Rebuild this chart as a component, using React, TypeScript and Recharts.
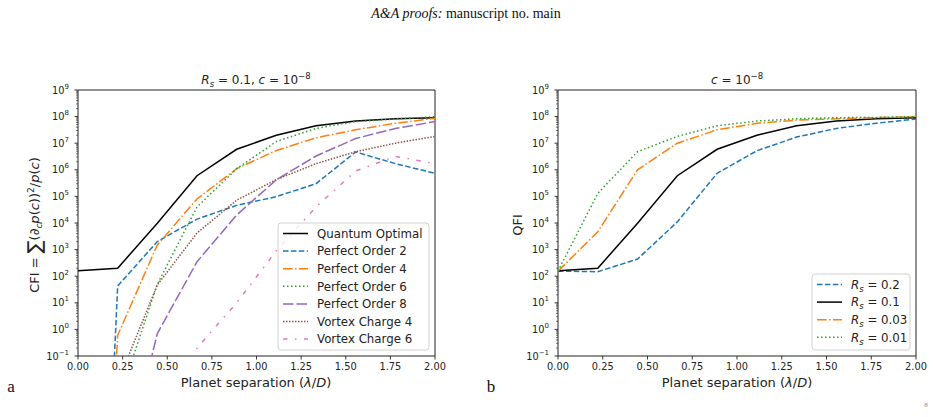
import React from 'react';
import { LineChart, Line, XAxis, YAxis, ReferenceArea } from 'recharts';

// planet separation grid in lambda/D
const separation = [0, 0.2222, 0.4444, 0.6667, 0.8889, 1.1111, 1.3333, 1.5556, 1.7778, 2.0];

// classical Fisher information, R_s = 0.1
const quantumOptimal = [160, 200, 9.8e3, 6e5, 5.9e6, 2e7, 4.5e7, 6.8e7, 8.3e7, 9e7];
const perfectOrder2 = [1e-31, 43, 2e3, 1.4e4, 4.6e4, 9.8e4, 3e5, 4.7e6, 1.7e6, 7.4e5];
const perfectOrder4 = [1e-29, 0.6, 1.5e3, 8e4, 1.1e6, 5.3e6, 1.6e7, 3.2e7, 5.6e7, 8.7e7];
const perfectOrder6 = [1e-30, 1.7e-3, 50, 4e4, 1.1e6, 1.15e7, 3.6e7, 6.5e7, 8.1e7, 1e8];
const perfectOrder8 = [1e-30, 6e-7, 0.7, 350, 2e4, 4.2e5, 3.3e6, 1.5e7, 3.6e7, 6.5e7];
const vortexCharge4 = [1e-30, 1e-2, 47, 4.2e3, 7.2e4, 4.3e5, 1.7e6, 4.8e6, 1e7, 1.8e7];
const vortexCharge6 = [1e-30, 1e-25, 1e-15, 0.2, 10, 900, 4e4, 9e5, 3.2e6, 1.7e6];

// quantum Fisher information for several source radii
const qfiRs02 = [155, 148, 440, 1.1e4, 7.4e5, 5.2e6, 1.7e7, 3.6e7, 5.6e7, 8.1e7];
const qfiRs01 = [160, 200, 9.8e3, 6e5, 5.9e6, 2e7, 4.5e7, 6.8e7, 8.3e7, 9e7];
const qfiRs003 = [155, 4.7e3, 1e6, 1e7, 3.2e7, 5.6e7, 7.4e7, 8.3e7, 9.1e7, 1e8];
const qfiRs001 = [155, 1.3e5, 4.8e6, 1.8e7, 4.5e7, 6.8e7, 8.3e7, 9.1e7, 9.3e7, 1e8];

const xTicks = [0, 0.25, 0.5, 0.75, 1, 1.25, 1.5, 1.75, 2];
const decadeTicks = [1e-1, 1e0, 1e1, 1e2, 1e3, 1e4, 1e5, 1e6, 1e7, 1e8, 1e9];
const minorTicks = decadeTicks.slice(0, -1).flatMap((d) => [2, 3, 4, 5, 6, 7, 8, 9].map((k) => k * d));
const yTicks = [...decadeTicks, ...minorTicks];

const FONT = '"DejaVu Sans", sans-serif';
const AXIS = '#222';

const cfiSeries = [
  { key: 'qo', name: 'Quantum Optimal', values: quantumOptimal, color: '#000000', dash: undefined },
  { key: 'po2', name: 'Perfect Order 2', values: perfectOrder2, color: '#1f77b4', dash: '5.5 2.4' },
  { key: 'po4', name: 'Perfect Order 4', values: perfectOrder4, color: '#ff7f0e', dash: '9.6 2.4 1.5 2.4' },
  { key: 'po6', name: 'Perfect Order 6', values: perfectOrder6, color: '#2ca02c', dash: '1.5 2.5' },
  { key: 'po8', name: 'Perfect Order 8', values: perfectOrder8, color: '#9467bd', dash: '10.5 3' },
  { key: 'vc4', name: 'Vortex Charge 4', values: vortexCharge4, color: '#8c564b', dash: '1.5 1.5' },
  { key: 'vc6', name: 'Vortex Charge 6', values: vortexCharge6, color: '#e377c2', dash: '4.5 7.5 1.5 7.5' },
];

const qfiSeries = [
  { key: 'r02', name: '0.2', values: qfiRs02, color: '#1f77b4', dash: '5.5 2.4' },
  { key: 'r01', name: '0.1', values: qfiRs01, color: '#000000', dash: undefined },
  { key: 'r003', name: '0.03', values: qfiRs003, color: '#ff7f0e', dash: '9.6 2.4 1.5 2.4' },
  { key: 'r001', name: '0.01', values: qfiRs001, color: '#2ca02c', dash: '1.5 2.5' },
];

type Series = typeof cfiSeries[number];

function buildRows(series: Series[]) {
  return separation.map((x, i) => {
    const row: Record<string, number> = { x };
    series.forEach((s) => (row[s.key] = s.values[i]));
    return row;
  });
}

function YTick(props: any) {
  const { x, y, payload } = props;
  const lg = Math.log10(payload.value);
  const e = Math.round(lg);
  const major = Math.abs(lg - e) < 1e-6;
  return (
    <g>
      <line x1={x} x2={x - (major ? 3.5 : 2)} y1={y} y2={y} stroke={AXIS} strokeWidth={major ? 0.9 : 0.6} />
      {major && (
        <text x={x - 9} y={y + 3.6} textAnchor="end" fontSize={9.8} fontFamily={FONT} fill="#222">
          10
          <tspan dy={-5} fontSize={7}>{e < 0 ? '\u2212' + -e : String(e)}</tspan>
        </text>
      )}
    </g>
  );
}

function XTick(props: any) {
  const { x, y, payload } = props;
  return (
    <g>
      <line x1={x} x2={x} y1={y} y2={y + 3.5} stroke={AXIS} strokeWidth={0.9} />
      <text x={x} y={y + 14} textAnchor="middle" fontSize={9.8} fontFamily={FONT} fill="#222">
        {payload.value.toFixed(2)}
      </text>
    </g>
  );
}

function Panel({ left, width, marginRight, series }: { left: number; width: number; marginRight: number; series: Series[] }) {
  const rows = buildRows(series);
  return (
    <div style={{ position: 'absolute', left, top: 0 }}>
      <LineChart width={width} height={417} data={rows} margin={{ top: 90, right: marginRight, bottom: 31, left: 0 }}>
        <XAxis
          type="number"
          dataKey="x"
          domain={[0, 2]}
          ticks={xTicks}
          interval={0}
          tick={(p: any) => <XTick {...p} />}
          tickSize={0}
          tickMargin={0}
          tickLine={false}
          axisLine={false}
          height={30}
          allowDataOverflow
        />
        <YAxis
          type="number"
          scale="log"
          domain={[0.1, 1e9]}
          ticks={yTicks}
          interval={0}
          tick={(p: any) => <YTick {...p} />}
          tickSize={0}
          tickMargin={0}
          tickLine={false}
          axisLine={false}
          width={78}
          allowDataOverflow
        />
        {series.map((s) => (
          <Line
            key={s.key}
            type="linear"
            dataKey={s.key}
            stroke={s.color}
            strokeWidth={1.5}
            strokeDasharray={s.dash}
            dot={false}
            activeDot={false}
            isAnimationActive={false}
          />
        ))}
        <ReferenceArea x1={0} x2={2} y1={0.1} y2={1e9} fill="none" stroke={AXIS} strokeWidth={1} ifOverflow="visible" />
      </LineChart>
    </div>
  );
}

function LegendBox({ x, y, w, h, series, label }: { x: number; y: number; w: number; h: number; series: Series[]; label: (s: Series) => React.ReactNode }) {
  return (
    <g>
      <rect x={x} y={y} width={w} height={h} rx={3} fill="#fff" fillOpacity={0.8} stroke="#d0d0d0" strokeWidth={1} />
      {series.map((s, i) => {
        const cy = y + 10.5 + i * 17.6;
        return (
          <g key={s.key}>
            <line x1={x + 5} x2={x + 30} y1={cy} y2={cy} stroke={s.color} strokeWidth={1.5} strokeDasharray={s.dash} />
            <text x={x + 39} y={cy + 4.2} fontSize={11.8} fontFamily={FONT} fill="#222">
              {label(s)}
            </text>
          </g>
        );
      })}
    </g>
  );
}

const rsLabel = (s: Series) => (
  <>
    <tspan fontStyle="italic">R</tspan>
    <tspan fontStyle="italic" fontSize={8.5} dy={3}>s</tspan>
    <tspan dy={-3}>{' = ' + s.name}</tspan>
  </>
);

export default function App() {
  return (
    <div style={{ position: 'absolute', left: 0, top: 0, width: 933, height: 417, background: '#fff' }}>
      <Panel left={0} width={460} marginRight={25} series={cfiSeries} />
      <Panel left={480} width={453} marginRight={17} series={qfiSeries} />
      <svg width={933} height={417} style={{ position: 'absolute', left: 0, top: 0, pointerEvents: 'none' }}>
        <text x={466} y={18} textAnchor="middle" fontSize={14} fontFamily='"Liberation Serif", serif' fill="#111">
          <tspan fontStyle="italic">A&amp;A proofs:</tspan> manuscript no. main
        </text>

        {/* panel titles */}
        <text x={256} y={84} textAnchor="middle" fontSize={12} fontFamily={FONT} fill="#222">
          <tspan fontStyle="italic">R</tspan>
          <tspan fontStyle="italic" fontSize={8.5} dy={3}>s</tspan>
          <tspan dy={-3}> = 0.1, </tspan>
          <tspan fontStyle="italic">c</tspan> = 10
          <tspan fontSize={8.5} dy={-5}>{'\u22128'}</tspan>
        </text>
        <text x={737} y={84} textAnchor="middle" fontSize={12} fontFamily={FONT} fill="#222">
          <tspan fontStyle="italic">c</tspan> = 10
          <tspan fontSize={8.5} dy={-5}>{'\u22128'}</tspan>
        </text>

        {/* axis labels */}
        <text x={256} y={387} textAnchor="middle" fontSize={13} fontFamily={FONT} fill="#222">
          Planet separation (<tspan fontStyle="italic">λ</tspan>/<tspan fontStyle="italic">D</tspan>)
        </text>
        <text x={737} y={387} textAnchor="middle" fontSize={13} fontFamily={FONT} fill="#222">
          Planet separation (<tspan fontStyle="italic">λ</tspan>/<tspan fontStyle="italic">D</tspan>)
        </text>
        <text transform="translate(39,225) rotate(-90)" textAnchor="middle" fontSize={13} fontFamily={FONT} fill="#222">
          CFI = <tspan fontSize={19} dy={2}>∑</tspan>
          <tspan dy={-2}>(</tspan>
          <tspan fontStyle="italic">∂</tspan>
          <tspan fontStyle="italic" fontSize={9} dy={3}>c</tspan>
          <tspan fontStyle="italic" dy={-3}>p</tspan>(<tspan fontStyle="italic">c</tspan>))
          <tspan fontSize={9} dy={-5}>2</tspan>
          <tspan dy={5}>/</tspan>
          <tspan fontStyle="italic">p</tspan>(<tspan fontStyle="italic">c</tspan>)
        </text>
        <text transform="translate(522,225) rotate(-90)" textAnchor="middle" fontSize={13} fontFamily={FONT} fill="#222">
          QFI
        </text>

        <LegendBox x={278} y={223} w={151} h={127} series={cfiSeries} label={(s) => s.name} />
        <LegendBox x={812} y={274} w={98} h={76} series={qfiSeries} label={rsLabel} />

        <text x={11} y={392} textAnchor="middle" fontSize={17} fontFamily='"Liberation Serif", serif' fill="#111">a</text>
        <text x={491} y={392} textAnchor="middle" fontSize={17} fontFamily='"Liberation Serif", serif' fill="#111">b</text>
        <text x={926} y={407} textAnchor="middle" fontSize={7} fontFamily='"Liberation Serif", serif' fill="#888">8</text>
      </svg>
    </div>
  );
}
